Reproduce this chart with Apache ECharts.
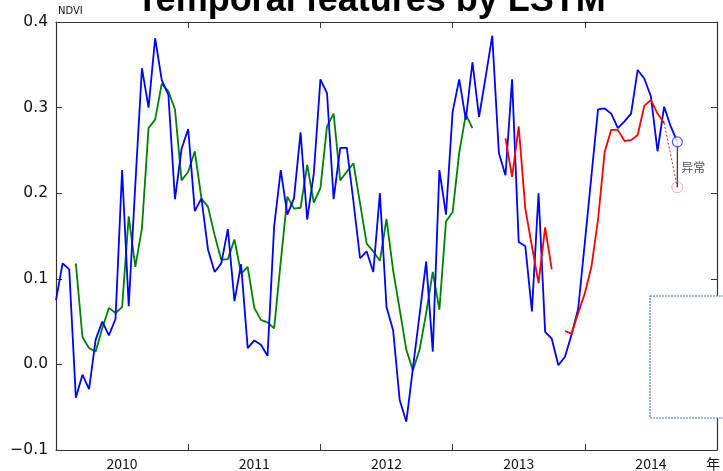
<!DOCTYPE html>
<html>
<head>
<meta charset="utf-8">
<script src="https://cdn.jsdelivr.net/npm/echarts@6/dist/echarts.min.js"></script>
<style>
  html, body { margin: 0; padding: 0; background: #fff; }
  #chart { width: 723px; height: 471px; }
</style>
</head>
<body>
<div id="chart"></div>
<script>
// Year labels along the bottom axis; each year spans 20 samples.
const years = ['2010', '2011', '2012', '2013', '2014'];
const samplesPerYear = 20;

// Observed NDVI series (one value per sample, starting at sample 0).
const observedNdvi = [
  0.075, 0.118, 0.111, -0.039, -0.012, -0.029, 0.029, 0.050, 0.034, 0.053,
  0.227, 0.068, 0.210, 0.346, 0.300, 0.381, 0.332, 0.315, 0.193, 0.252,
  0.275, 0.179, 0.194, 0.134, 0.108, 0.118, 0.158, 0.074, 0.117, 0.019,
  0.028, 0.023, 0.010, 0.161, 0.227, 0.175, 0.194, 0.271, 0.169, 0.223,
  0.333, 0.317, 0.193, 0.253, 0.253, 0.190, 0.124, 0.132, 0.108, 0.200,
  0.067, 0.040, -0.042, -0.067, -0.004, 0.058, 0.120, 0.015, 0.227, 0.175,
  0.295, 0.333, 0.286, 0.353, 0.289, 0.336, 0.384, 0.247, 0.221, 0.333,
  0.143, 0.138, 0.062, 0.200, 0.038, 0.030, -0.001, 0.009, 0.035, 0.065,
  0.142, 0.220, 0.298, 0.299, 0.293, 0.276, 0.284, 0.293, 0.344, 0.334,
  0.313, 0.249, 0.301, 0.278, 0.260
];

// LSTM fit over the training period (starts at sample 3).
const fitStart = 3;
const fitNdvi = [
  0.118, 0.032, 0.019, 0.015, 0.042, 0.066, 0.060, 0.067, 0.173, 0.114,
  0.159, 0.276, 0.286, 0.328, 0.319, 0.298, 0.215, 0.225, 0.249, 0.194,
  0.184, 0.151, 0.122, 0.123, 0.146, 0.106, 0.114, 0.066, 0.052, 0.049,
  0.042, 0.120, 0.196, 0.182, 0.183, 0.233, 0.189, 0.206, 0.278, 0.293,
  0.215, 0.225, 0.235, 0.188, 0.141, 0.132, 0.121, 0.170, 0.110, 0.064,
  0.017, -0.007, 0.017, 0.060, 0.108, 0.064, 0.167, 0.178, 0.247, 0.292,
  0.276
];

// LSTM predictions: first segment from sample 68, second from sample 77.
const predAStart = 68;
const predA = [0.264, 0.219, 0.278, 0.182, 0.138, 0.095, 0.160, 0.111];
const predBStart = 77;
const predB = [
  0.039, 0.036, 0.060, 0.083, 0.114, 0.169, 0.248, 0.274, 0.274, 0.261,
  0.262, 0.268, 0.302, 0.309, 0.293, 0.282
];

// Anomaly check at the last sample: observed vs predicted value.
const anomalyIndex = 94;
const anomalyObserved = 0.260;
const anomalyPredicted = 0.207;
const anomalyLabel = '异常';

const toPoints = (arr, start) => arr.map((v, i) => [start + i, v]);

const chart = echarts.init(document.getElementById('chart'), null, { renderer: 'canvas' });

const spineColor = '#333';
const spine = { show: true, onZero: false, lineStyle: { color: spineColor, width: 1.2 } };
const tickStyle = { show: true, inside: true, length: 6, lineStyle: { color: spineColor, width: 1 } };

const fmtY = v => {
  if (Math.abs(v) < 1e-9) return '0.0';
  return v.toFixed(1).replace('-', '\u2212');
};

const lastPred = predB[predB.length - 1];
const lastPredIndex = predBStart + predB.length - 1;

chart.setOption({
  animation: false,
  backgroundColor: '#fff',
  grid: { left: 56, right: 6, top: 22, bottom: 21 },
  xAxis: [
    {
      type: 'category', data: years, position: 'bottom', boundaryGap: true,
      axisLine: spine,
      axisTick: tickStyle,
      axisLabel: { color: '#111', fontSize: 14, fontFamily: 'Noto Sans CJK SC', margin: 7 },
      splitLine: { show: false },
      name: '年', nameLocation: 'end', nameGap: -11,
      nameTextStyle: { color: '#111', fontSize: 14, fontFamily: 'Noto Sans CJK SC', align: 'left', verticalAlign: 'top', padding: [7, 0, 0, 0] }
    },
    {
      type: 'category', data: years, position: 'top', boundaryGap: true,
      axisLine: spine,
      axisTick: tickStyle,
      axisLabel: { show: false },
      splitLine: { show: false }
    },
    {
      type: 'value', min: 0, max: years.length * samplesPerYear, show: false,
      axisLine: { show: false, onZero: false },
      splitLine: { show: false }
    }
  ],
  yAxis: [
    {
      type: 'value', min: -0.1, max: 0.4, interval: 0.1, position: 'left',
      axisLine: spine,
      axisTick: tickStyle,
      axisLabel: { color: '#111', fontSize: 15.5, fontFamily: 'DejaVu Sans', margin: 8, formatter: fmtY },
      splitLine: { show: false },
      name: 'NDVI', nameLocation: 'end', nameGap: 6,
      nameTextStyle: { color: '#111', fontSize: 10, fontFamily: 'DejaVu Sans', align: 'left', padding: [0, 0, 0, 2] }
    },
    {
      type: 'value', min: -0.1, max: 0.4, interval: 0.1, position: 'right',
      axisLine: spine,
      axisTick: tickStyle,
      axisLabel: { show: false },
      splitLine: { show: false }
    }
  ],
  series: [
    {
      name: 'observed', type: 'line', xAxisIndex: 2, yAxisIndex: 0,
      data: toPoints(observedNdvi, 0), showSymbol: false,
      lineStyle: { color: '#0000ff', width: 1.8 }, itemStyle: { color: '#0000ff' }, z: 3
    },
    {
      name: 'fit', type: 'line', xAxisIndex: 2, yAxisIndex: 0,
      data: toPoints(fitNdvi, fitStart), showSymbol: false,
      lineStyle: { color: '#008000', width: 1.8 }, itemStyle: { color: '#008000' }, z: 2
    },
    {
      name: 'predA', type: 'line', xAxisIndex: 2, yAxisIndex: 0,
      data: toPoints(predA, predAStart), showSymbol: false,
      lineStyle: { color: '#ff0000', width: 1.8 }, itemStyle: { color: '#ff0000' }, z: 4
    },
    {
      name: 'predB', type: 'line', xAxisIndex: 2, yAxisIndex: 0,
      data: toPoints(predB, predBStart), showSymbol: false,
      lineStyle: { color: '#ff0000', width: 1.8 }, itemStyle: { color: '#ff0000' }, z: 4
    },
    {
      name: 'predLink', type: 'line', xAxisIndex: 2, yAxisIndex: 0,
      data: [[lastPredIndex, lastPred], [anomalyIndex, anomalyPredicted]], showSymbol: false,
      lineStyle: { color: '#e02020', width: 1, type: [2, 2] }, z: 4
    },
    {
      name: 'gap', type: 'line', xAxisIndex: 2, yAxisIndex: 0,
      data: [[anomalyIndex, anomalyObserved], [anomalyIndex, anomalyPredicted]], showSymbol: false,
      lineStyle: { color: '#333', width: 1.2 }, z: 5
    },
    {
      name: 'observedMark', type: 'scatter', xAxisIndex: 2, yAxisIndex: 0,
      data: [[anomalyIndex, anomalyObserved]], symbol: 'circle', symbolSize: 10,
      itemStyle: { color: '#fff', borderColor: '#2233ff', borderWidth: 1.2 }, z: 6
    },
    {
      name: 'predictedMark', type: 'scatter', xAxisIndex: 2, yAxisIndex: 0,
      data: [[anomalyIndex, anomalyPredicted]], symbol: 'circle', symbolSize: 11,
      itemStyle: { color: 'rgba(255,255,255,0)', borderColor: '#f09090', borderWidth: 1 }, z: 6
    },
    {
      name: 'anomalyText', type: 'scatter', xAxisIndex: 2, yAxisIndex: 0,
      data: [[anomalyIndex, (anomalyObserved + anomalyPredicted) / 2 - 0.003]], symbolSize: 0,
      label: { show: true, position: 'right', distance: 4, formatter: anomalyLabel,
               color: '#222', fontSize: 12, fontFamily: 'Noto Sans CJK SC' },
      z: 6
    }
  ],
  graphic: [
    {
      type: 'text', z: 10,
      x: 371, y: 1,
      style: {
        text: 'Temporal features by LSTM', x: 0, y: 0,
        fill: '#000', font: 'bold 36px "Liberation Sans", Arial, sans-serif',
        align: 'center', verticalAlign: 'middle'
      }
    },
    {
      type: 'rect', z: 20,
      shape: { x: 650, y: 296, width: 90, height: 122 },
      style: { fill: '#fff', stroke: '#4a76b8', lineWidth: 1.2, lineDash: [2, 1] }
    }
  ]
});
</script>
</body>
</html>
